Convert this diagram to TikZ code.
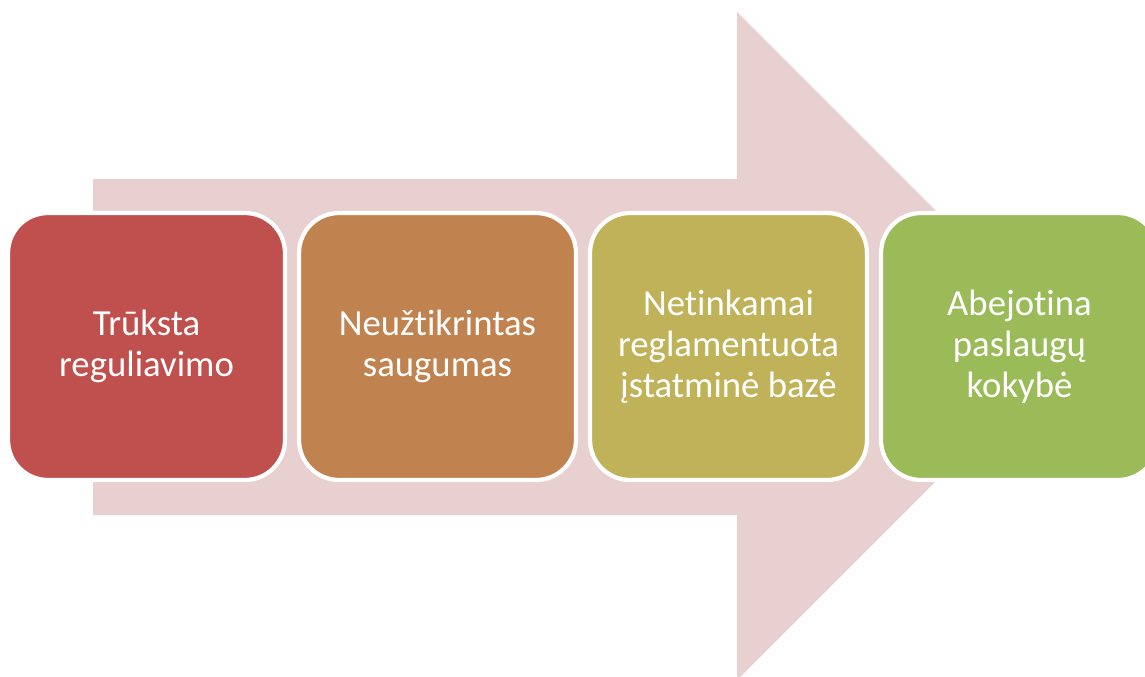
\documentclass[tikz,border=0pt]{standalone}
\usepackage{fontspec}
\setmainfont{Carlito}[Ligatures=CommonOff]
\begin{document}
\begin{tikzpicture}[x=0.02cm,y=-0.02cm,
  stage/.style={draw=white, line width=2.4pt, rounded corners=0.8cm,
    minimum width=5.54cm, minimum height=5.34cm, text=white, align=center,
    font=\fontsize{20.9pt}{23.3pt}\selectfont, inner sep=0pt},
  flow/.style={fill=arrowpink}]
\definecolor{arrowpink}{RGB}{232,208,209}
\definecolor{stageA}{RGB}{192,80,77}
\definecolor{stageB}{RGB}{192,131,80}
\definecolor{stageC}{RGB}{191,178,88}
\definecolor{stageD}{RGB}{155,187,89}
\useasboundingbox (0,0) rectangle (1145,676);
\clip (0,0) rectangle (1145,676);
% background arrow
\fill[flow] (93,179) -- (737,179) -- (737,12) -- (1071,346) -- (737,680)
  -- (737,515) -- (93,515) -- cycle;
% stages
\node[stage, fill=stageA] (s1) at (146.5,346.5) {Trūksta\\reguliavimo};
\node[stage, fill=stageB] (s2) at (437.5,346.5) {Neužtikrintas\\saugumas};
\node[stage, fill=stageC] (s3) at (728.5,346.5) {Netinkamai\\reglamentuota\\įstatminė bazė};
\node[stage, fill=stageD] (s4) at (1019.5,346.5) {Abejotina\\paslaugų\\kokybė};
\end{tikzpicture}
\end{document}
